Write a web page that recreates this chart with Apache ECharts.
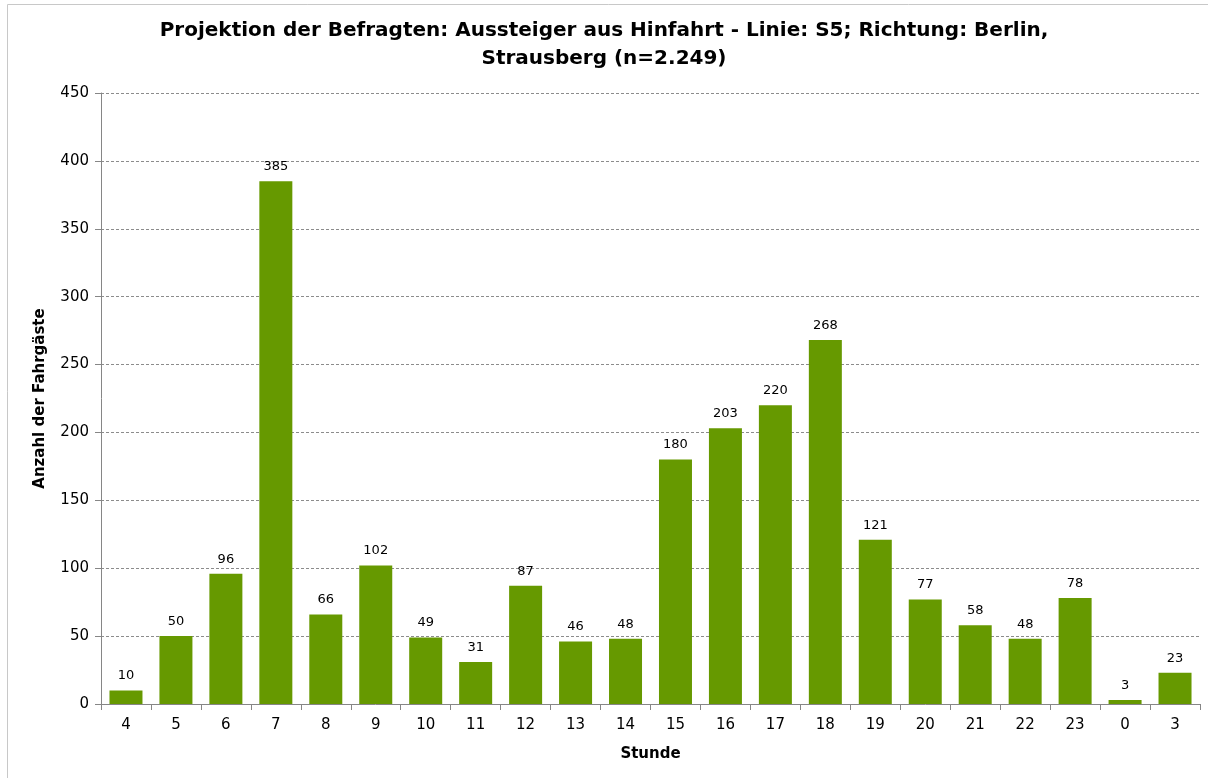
<!DOCTYPE html>
<html>
<head>
<meta charset="utf-8">
<script src="https://cdn.jsdelivr.net/npm/echarts@6/dist/echarts.min.js"></script>
<style>
  html, body { margin: 0; padding: 0; background: #fff; }
  #main { width: 1208px; height: 778px; }
</style>
</head>
<body>
<div id="main"></div>
<script>
// Stunden und Anzahl der Fahrgäste
var stunden = ['4', '5', '6', '7', '8', '9', '10', '11', '12', '13', '14', '15', '16', '17', '18', '19', '20', '21', '22', '23', '0', '3'];
var fahrgaeste = [10, 50, 96, 385, 66, 102, 49, 31, 87, 46, 48, 180, 203, 220, 268, 121, 77, 58, 48, 78, 3, 23];

var schrift = 'DejaVu Sans';
var myChart = echarts.init(document.getElementById('main'));

myChart.setOption({
  backgroundColor: '#fff',
  animation: false,
  title: {
    text: 'Projektion der Befragten: Aussteiger aus Hinfahrt - Linie: S5; Richtung: Berlin,\nStrausberg (n=2.249)',
    left: 'center',
    top: 12,
    textStyle: {
      fontFamily: schrift,
      fontSize: 20,
      fontWeight: 'bold',
      color: '#000',
      lineHeight: 28
    }
  },
  graphic: [{
    type: 'rect',
    shape: { x: 7.5, y: 4.5, width: 1220, height: 800 },
    style: { fill: 'none', stroke: '#c8c8c8', lineWidth: 1 },
    silent: true
  }],
  grid: { left: 101, right: 8, top: 93, bottom: 74 },
  xAxis: {
    type: 'category',
    data: stunden,
    name: 'Stunde',
    nameLocation: 'middle',
    nameGap: 43,
    nameTextStyle: { fontFamily: schrift, fontSize: 15, fontWeight: 'bold', color: '#000' },
    axisLine: { lineStyle: { color: '#868686' } },
    axisTick: { show: true, length: 6, lineStyle: { color: '#868686' } },
    axisLabel: { fontFamily: schrift, fontSize: 15, color: '#000', margin: 14 }
  },
  yAxis: {
    type: 'value',
    min: 0,
    max: 450,
    interval: 50,
    name: 'Anzahl der Fahrgäste',
    nameLocation: 'middle',
    nameGap: 53,
    nameTextStyle: { fontFamily: schrift, fontSize: 15, fontWeight: 'bold', color: '#000' },
    axisLine: { show: true, lineStyle: { color: '#868686' } },
    axisTick: { show: true, length: 6, lineStyle: { color: '#868686' } },
    axisLabel: { fontFamily: schrift, fontSize: 15, color: '#000', margin: 12 },
    splitLine: { lineStyle: { color: '#8c8c8c', type: [3, 2], width: 1 } }
  },
  series: [{
    type: 'bar',
    data: fahrgaeste,
    barWidth: 33,
    itemStyle: { color: '#669900' },
    label: {
      show: true,
      position: 'top',
      distance: 8,
      fontFamily: schrift,
      fontSize: 13,
      color: '#000'
    }
  }]
});
</script>
</body>
</html>
